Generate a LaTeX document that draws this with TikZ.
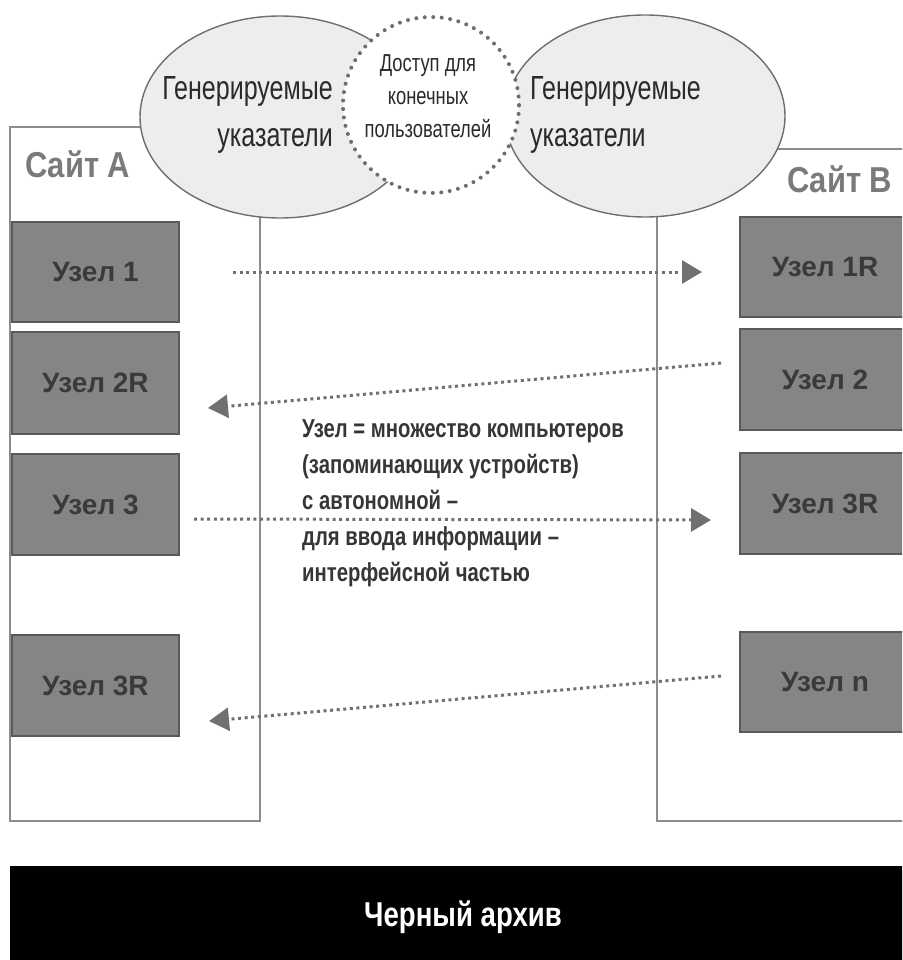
\documentclass[tikz,border=0pt]{standalone}
\usepackage{fontspec}
\setmainfont{Liberation Sans}
\newfontfamily\condfont{Liberation Sans}[FakeStretch=0.75]
\newfontfamily\midfont{Liberation Sans}[FakeStretch=0.78]
\newfontfamily\sitefont{Liberation Sans}[FakeStretch=0.86]
\newfontfamily\archfont{Liberation Sans}[FakeStretch=0.80]
\usetikzlibrary{arrows.meta,calc,shapes.geometric}
\definecolor{nodefill}{HTML}{858585}
\definecolor{nodeborder}{HTML}{5A5A5A}
\definecolor{nodetext}{HTML}{3A3A3A}
\definecolor{sitecol}{HTML}{8C8C8C}
\definecolor{sitetext}{HTML}{7A7A7A}
\definecolor{ellfill}{HTML}{EDEDED}
\definecolor{ellline}{HTML}{6E6E6E}
\definecolor{arrcol}{HTML}{707070}
\definecolor{midtext}{HTML}{363636}
\definecolor{elltext}{HTML}{2A2A2A}
\tikzset{
  sitebox/.style={draw=sitecol, line width=2pt, fill=white, inner sep=0pt},
  sitelabel/.style={text=sitetext, inner sep=0pt, font=\sitefont\bfseries\fontsize{36}{40}\selectfont},
  pointer/.style={ellipse, draw=ellline, line width=1.4pt, fill=ellfill, inner sep=0pt,
                  minimum width=280pt, minimum height=202pt},
  access/.style={circle, draw=ellline, fill=white, line width=4pt, line cap=round,
                 dash pattern=on 0pt off 8.5pt, minimum size=176pt, inner sep=0pt},
  elltxt/.style={text=elltext, inner sep=0pt, font=\condfont\fontsize{33.4}{47}\selectfont},
  acctxt/.style={text=elltext, inner sep=0pt, align=center, font=\condfont\fontsize{24.5}{33}\selectfont},
  midtxt/.style={text=midtext, inner sep=0pt, align=left, font=\midfont\bfseries\fontsize{26}{36}\selectfont},
  nodebox/.style={draw=nodeborder, fill=nodefill, line width=2pt, text=nodetext,
                  font=\bfseries\fontsize{28}{32}\selectfont, inner sep=0pt},
  leftbox/.style={nodebox, minimum width=167pt},
  rightbox/.style={nodebox, minimum width=170pt},
  flow/.style={draw=arrcol, line width=3pt, dash pattern=on 3pt off 3.6pt,
               -{Triangle[length=20pt,width=23pt,fill=arrcol]}},
}
\begin{document}
\begin{tikzpicture}[x=1pt,y=-1pt]
\useasboundingbox (0,0) rectangle (902,960);
\clip (0,0) rectangle (902,960);

% sites
\node[sitebox, minimum width=250pt, minimum height=694pt] (siteA) at (135,474) {};
\node[sitebox, minimum width=250pt, minimum height=672pt] (siteB) at (782,485) {};

% pointer ellipses and access circle
\node[pointer] (ellL) at (280,117) {};
\node[pointer] (ellR) at (645,116) {};
\node[access] (acc) at (431,105) {};

% (anchor=base of a multi-line node is the baseline of its last line)
\node[elltxt, align=right, anchor=base east] (gl) at (333,147) {Генерируемые\\указатели};
\node[elltxt, align=left, anchor=base west] (gr) at (530,147) {Генерируемые\\указатели};
\node[acctxt, anchor=base] (at) at (428,138) {Доступ для\\конечных\\пользователей};

% site labels
\node[sitelabel, anchor=base west] (labA) at (25,178) {Сайт A};
\node[sitelabel, anchor=base west] (labB) at (787,193) {Сайт B};

% nodes of site A
\node[leftbox, minimum height=100pt] (a1) at (95.5,272) {Узел 1};
\node[leftbox, minimum height=102pt] (a2) at (95.5,383) {Узел 2R};
\node[leftbox, minimum height=101pt] (a3) at (95.5,504.5) {Узел 3};
\node[leftbox, minimum height=101pt] (a4) at (95.5,685.5) {Узел 3R};

% nodes of site B
\node[rightbox, minimum height=100pt] (b1) at (825,267) {Узел 1R};
\node[rightbox, minimum height=101pt] (b2) at (825,379.5) {Узел 2};
\node[rightbox, minimum height=101pt] (b3) at (825,503.5) {Узел 3R};
\node[rightbox, minimum height=100pt] (bn) at (825,682) {Узел n};

% middle explanation
\node[midtxt, anchor=base west] (mt) at (302,581)
  {Узел = множество компьютеров\\(запоминающих устройств)\\с автономной –\\для ввода информации –\\интерфейсной частью};

% connector ends
\coordinate (s1) at ($(a1.east)+(53,0)$);
\coordinate (t1) at ($(b1.west)+(-37,5)$);
\coordinate (s2) at ($(b2.west)+(-18,-16.5)$);
\coordinate (t2) at ($(a2.east)+(28,25)$);
\coordinate (s3) at ($(a3.east)+(14,14.5)$);
\coordinate (t3) at ($(b3.west)+(-28,16.5)$);
\coordinate (sn) at ($(bn.west)+(-18,-6)$);
\coordinate (tn) at ($(a4.east)+(29,35.5)$);

\draw[flow] (s1) -- (t1);
\draw[flow] (s2) -- (t2);
\draw[flow] (s3) -- (t3);
\draw[flow] (sn) -- (tn);

% black archive
\node[fill=black, minimum width=906pt, minimum height=102pt, inner sep=0pt,
      text=white, font=\archfont\bfseries\fontsize{34.5}{40}\selectfont] (arch) at (463,917) {Черный архив};
\end{tikzpicture}
\end{document}
